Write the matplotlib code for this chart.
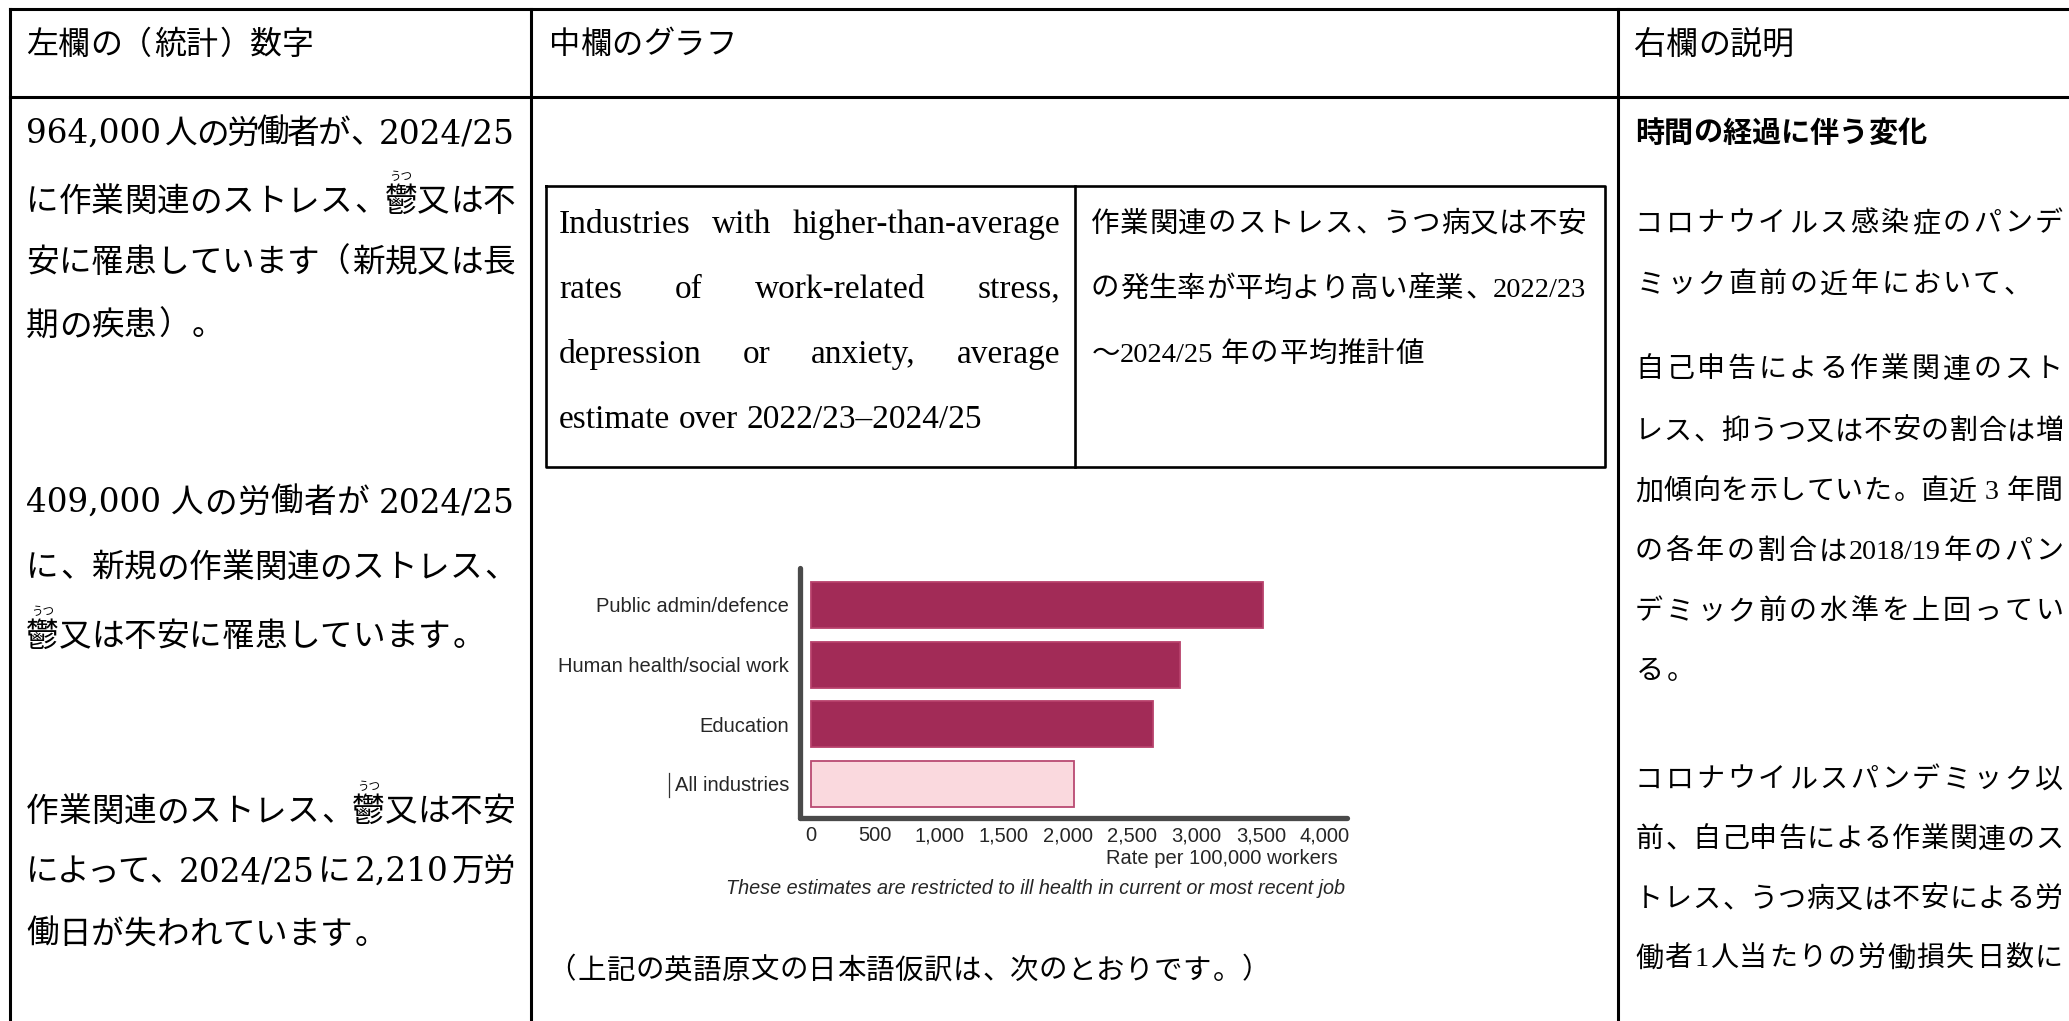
import matplotlib
matplotlib.use("Agg")
import matplotlib.pyplot as plt

W, H, DPI = 2069, 1021, 100
CJK = "Noto Sans CJK JP"
SERIF = ["Liberation Serif", CJK]
WIDE_SERIF = ["DejaVu Serif", CJK]
SANS = ["Liberation Sans", CJK]

# chart data
industries = ["Public admin/defence", "Human health/social work", "Education", "All industries"]
rates = [3520, 2870, 2660, 2050]
above_average = [True, True, True, False]
x_ticks = [0, 500, 1000, 1500, 2000, 2500, 3000, 3500, 4000]
x_label = "Rate per 100,000 workers"
chart_note = "These estimates are restricted to ill health in current or most recent job"

headers = ["左欄の（統計）数字", "中欄のグラフ", "右欄の説明"]

left_paras = [
    ["964,000 人の労働者が、2024/25", "に作業関連のストレス、鬱又は不",
     "安に罹患しています（新規又は長", "期の疾患）。"],
    ["409,000 人の労働者が 2024/25", "に、新規の作業関連のストレス、",
     "鬱又は不安に罹患しています。"],
    ["作業関連のストレス、鬱又は不安", "によって、2024/25 に 2,210 万労",
     "働日が失われています。"],
]

en_caption = ["Industries with higher-than-average", "rates of work-related stress,",
              "depression or anxiety, average", "estimate over 2022/23–2024/25"]
ja_caption = ["作業関連のストレス、うつ病又は不安", "の発生率が平均より高い産業、2022/23",
              "〜2024/25 年の平均推計値"]
ja_note = "（上記の英語原文の日本語仮訳は、次のとおりです。）"

right_heading = "時間の経過に伴う変化"
right_paras = [
    ["コロナウイルス感染症のパンデ", "ミック直前の近年において、"],
    ["自己申告による作業関連のスト", "レス、抑うつ又は不安の割合は増",
     "加傾向を示していた。直近 3 年間", "の各年の割合は2018/19年のパン",
     "デミック前の水準を上回ってい", "る。"],
    ["コロナウイルスパンデミック以", "前、自己申告による作業関連のス",
     "トレス、うつ病又は不安による労", "働者1人当たりの労働損失日数に"],
]

# line positions (pixel centres)
left_y = [[131, 199, 260, 323], [500, 565, 634], [809, 869, 932]]
right_y = [[221, 282], [367, 429, 489, 549, 609, 669], [777, 837, 897, 956]]

fig = plt.figure(figsize=(W / DPI, H / DPI), dpi=DPI, facecolor="white")
bg = fig.add_axes([0, 0, 1, 1])
bg.set_xlim(0, W)
bg.set_ylim(H, 0)
bg.axis("off")
renderer = fig.canvas.get_renderer()


def is_cjk(t):
    return len(t) == 1 and ord(t) >= 0x2E80


def tokens(s):
    out, run = [], ""
    for ch in s:
        if ch == " " or ord(ch) >= 0x2E80:
            if run:
                out.append(run)
                run = ""
            out.append(ch)
        else:
            run += ch
    if run:
        out.append(run)
    return out


def put_line(x0, yc, s, size, family, width=None, pitch=None, gap=0.0, **kw):
    em = size * DPI / 72
    base = yc + 0.37 * em
    toks = tokens(s)
    cells = []
    for t in toks:
        if t == " ":
            cells.append(0.25 * em)
        elif is_cjk(t):
            cells.append(pitch or em)
        else:
            tmp = bg.text(0, 0, t, fontsize=size, family=family, **kw)
            cells.append(tmp.get_window_extent(renderer).width)
            tmp.remove()
    if width is not None and len(toks) > 1:
        gap = (width - sum(cells)) / (len(toks) - 1)
    x = x0
    placed = []
    for t, c in zip(toks, cells):
        if t != " ":
            if is_cjk(t) and t in "、。）":
                px, ha = x + 0.06 * em, "left"
            elif t == "（":
                px, ha = x + c - 0.06 * em, "right"
            elif is_cjk(t):
                px, ha = x + c / 2, "center"
            else:
                px, ha = x, "left"
            bg.text(px, base, t, fontsize=size, family=family, ha=ha,
                    va="baseline", **kw)
            placed.append((t, x + c / 2))
        x += c + gap
    return placed


def add_ruby(placed, yc):
    for t, cx in placed:
        if t == "鬱":
            bg.text(cx, yc - 22, "うつ", fontsize=8.3, family=CJK,
                    ha="center", va="center")


# table rules
lw = 2.2
bg.plot([10, W], [9, 9], color="black", lw=lw)
bg.plot([10, W], [97, 97], color="black", lw=lw)
for xv in [10, 531, 1618]:
    bg.plot([xv, xv], [9, H], color="black", lw=lw)

# header row
put_line(26, 42, headers[0], 23, WIDE_SERIF)
put_line(549, 42, headers[1], 22.5, SERIF)
put_line(1634, 42, headers[2], 23, SERIF)

# left column
for para, ys in zip(left_paras, left_y):
    for i, (line, yc) in enumerate(zip(para, ys)):
        last = i == len(para) - 1
        placed = put_line(26, yc, line, 23.5, WIDE_SERIF, width=None if last else 489)
        add_ruby(placed, yc)

# middle column: caption table
bg.plot([546, 1605, 1605, 546, 546], [186, 186, 467, 467, 186], color="black", lw=1.9)
bg.plot([1075, 1075], [186, 467], color="black", lw=1.9)
cap_y = [221, 286, 351, 416]
for i, (line, yc) in enumerate(zip(en_caption, cap_y)):
    last = i == len(en_caption) - 1
    put_line(559, yc, line, 24, SERIF, width=None if last else 501)
for i, (line, yc) in enumerate(zip(ja_caption, cap_y)):
    last = i == len(ja_caption) - 1
    put_line(1091, yc, line, 20.5, SERIF, width=None if last else 495,
             pitch=29.1 if last else None)

# middle column: bar chart
ax = fig.add_axes([800 / W, 1 - 818 / H, (1347 - 800) / W, (818 - 568) / H])
ax.patch.set_alpha(0)
pos = list(range(len(industries)))
face = ["#a22b57" if a else "#fad9de" for a in above_average]
edge = ["#b8416b" if a else "#b94a72" for a in above_average]
ax.barh(pos, rates, height=0.77, color=face, edgecolor=edge, linewidth=1.3)
ax.set_ylim(3.57, -0.62)
ax.set_xlim(-86, 4171)
ax.set_yticks(pos, industries)
ax.set_xticks(x_ticks, [f"{v:,}" for v in x_ticks])
ax.tick_params(length=0, colors="#262626")
ax.tick_params(axis="x", labelsize=14.5, pad=6)
ax.tick_params(axis="y", labelsize=14.5, pad=8)
for lab in ax.get_xticklabels() + ax.get_yticklabels():
    lab.set_family(SANS)
for s in ["top", "right"]:
    ax.spines[s].set_visible(False)
for s in ["left", "bottom"]:
    ax.spines[s].set_linewidth(3.8)
    ax.spines[s].set_color("#4a4a4a")
    ax.spines[s].set_capstyle("round")

# stray text-cursor mark left of "All industries" in the source image
bg.plot([669, 669], [773, 797], color="#333333", lw=0.9)

bg.text(1338, 858, x_label, fontsize=14.5, family=SANS, color="#262626",
        ha="right", va="center")
bg.text(1345, 888, chart_note, fontsize=14.3, family=SANS, style="italic",
        color="#262626", ha="right", va="center")
put_line(549, 968, ja_note, 20.5, SERIF, pitch=28.8, style="italic")

# right column
put_line(1635, 131, right_heading, 21, SERIF, weight="bold")
for p, (para, ys) in enumerate(zip(right_paras, right_y)):
    for i, (line, yc) in enumerate(zip(para, ys)):
        last = i == len(para) - 1 and p < len(right_paras) - 1
        put_line(1635, yc, line, 20.2, SERIF, width=None if last else 428,
                 pitch=30.6 if last else None)

fig.savefig("out.png", dpi=DPI, facecolor="white")
